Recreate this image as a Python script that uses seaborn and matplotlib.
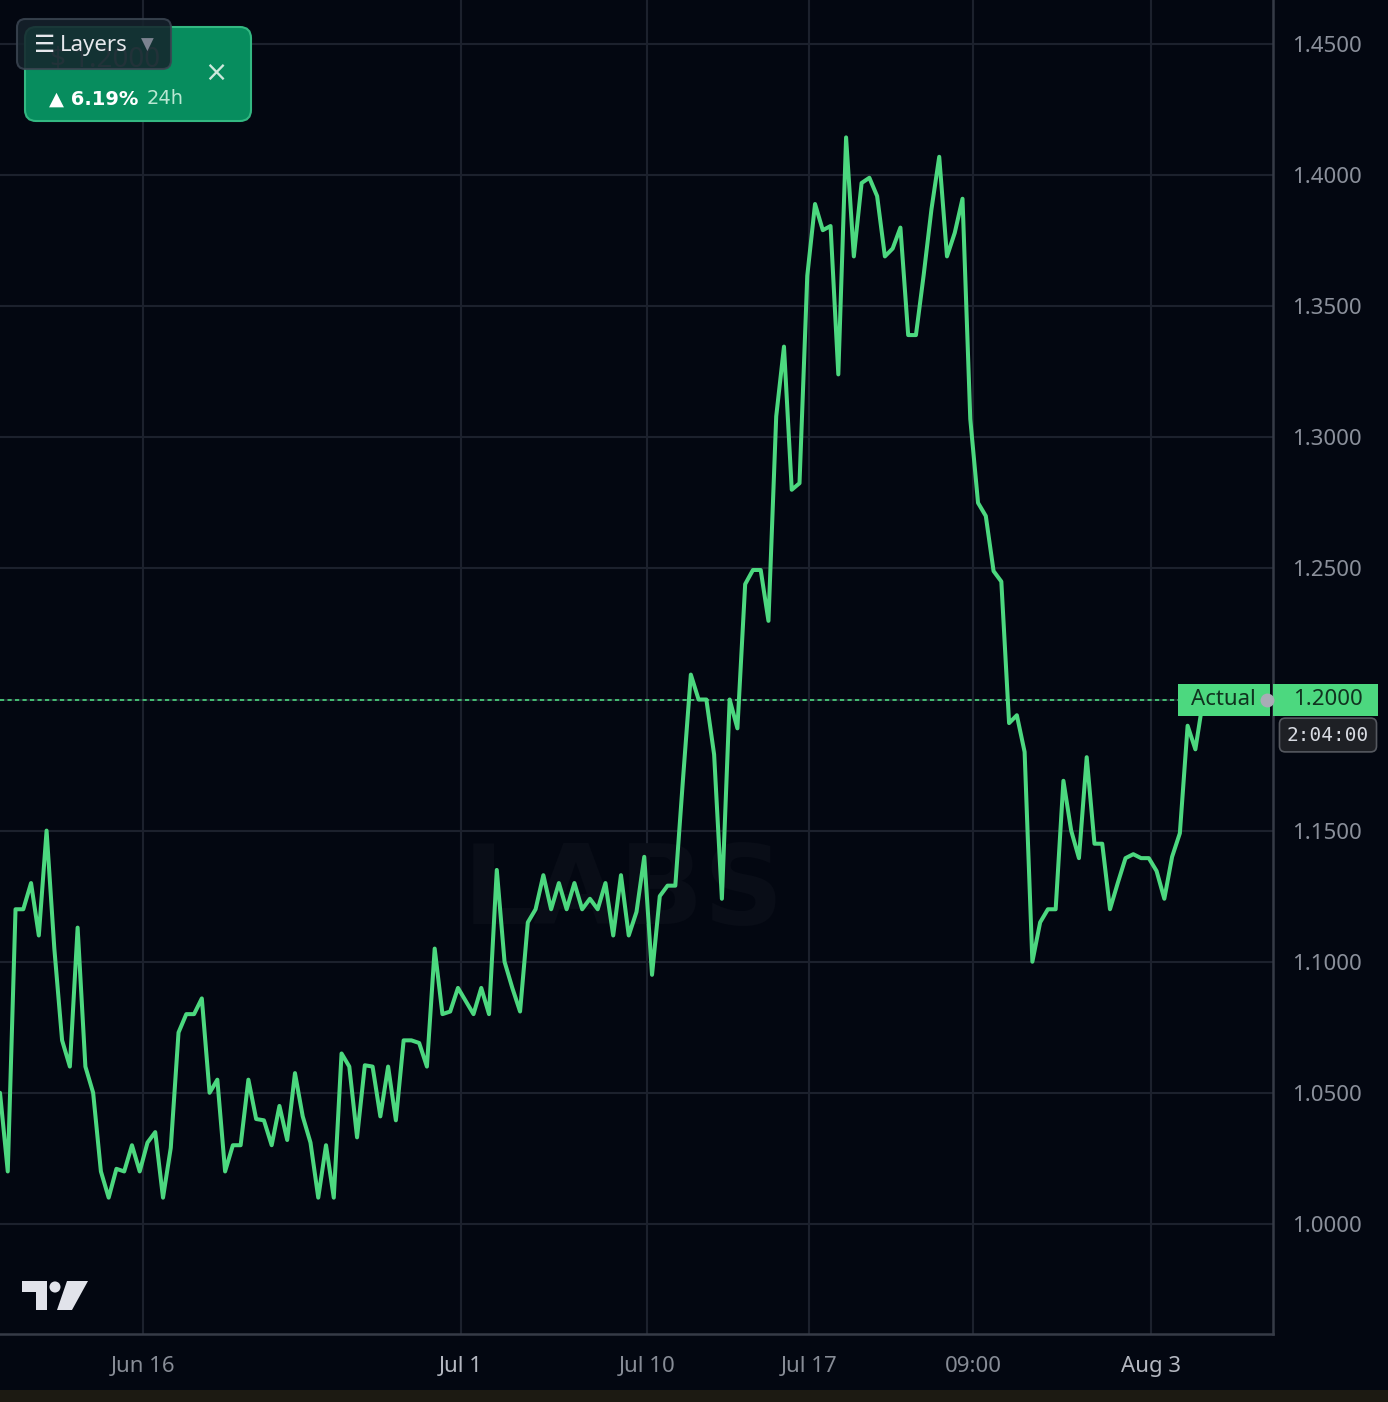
import numpy as np
import matplotlib.pyplot as plt
import seaborn as sns
from matplotlib.patches import FancyBboxPatch, Rectangle, Polygon, Circle
import matplotlib.transforms as mtransforms

# Price series (one value per bar)
prices = [
    1.050, 1.020, 1.120, 1.120, 1.130, 1.110, 1.150, 1.105, 1.070, 1.060,
    1.113, 1.060, 1.050, 1.020, 1.010, 1.021, 1.020, 1.030, 1.020, 1.031,
    1.035, 1.010, 1.029, 1.073, 1.080, 1.080, 1.086, 1.050, 1.055, 1.020,
    1.030, 1.030, 1.055, 1.040, 1.0395, 1.030, 1.045, 1.032, 1.0575, 1.041,
    1.031, 1.010, 1.030, 1.010, 1.065, 1.060, 1.033, 1.0605, 1.060, 1.041,
    1.060, 1.0395, 1.070, 1.070, 1.069, 1.060, 1.105, 1.080, 1.081, 1.090,
    1.085, 1.080, 1.090, 1.080, 1.135, 1.100, 1.090, 1.081, 1.115, 1.120,
    1.133, 1.120, 1.130, 1.120, 1.130, 1.120, 1.124, 1.120, 1.130, 1.110,
    1.133, 1.110, 1.119, 1.140, 1.095, 1.125, 1.129, 1.129, 1.170, 1.2095,
    1.200, 1.200, 1.179, 1.124, 1.200, 1.189, 1.244, 1.2494, 1.2494, 1.230,
    1.308, 1.3346, 1.280, 1.2825, 1.3616, 1.389, 1.379, 1.3806, 1.324, 1.4144,
    1.369, 1.397, 1.399, 1.392, 1.369, 1.372, 1.380, 1.339, 1.339, 1.362,
    1.387, 1.407, 1.369, 1.378, 1.391, 1.307, 1.275, 1.270, 1.249, 1.245,
    1.191, 1.194, 1.180, 1.100, 1.115, 1.120, 1.120, 1.169, 1.150, 1.1395,
    1.178, 1.145, 1.145, 1.120, 1.130, 1.1395, 1.141, 1.1395, 1.1395, 1.1346,
    1.124, 1.140, 1.149, 1.190, 1.181, 1.200,
]
bar_index = np.arange(len(prices))

# x axis labels (in bar units) and price scale
x_tick_pos = [18.43, 59.40, 83.37, 104.24, 125.37, 148.31]
x_tick_labels = ["Jun 16", "Jul 1", "Jul 10", "Jul 17", "09:00", "Aug 3"]
x_tick_bold = [False, True, False, False, False, True]
y_ticks = [1.00, 1.05, 1.10, 1.15, 1.20, 1.25, 1.30, 1.35, 1.40, 1.45]
last_price = 1.2000

BG = "#030711"
GRID = "#1c212d"
LINE = "#4cd87f"

sns.set_style("dark")
W, H = 1388, 1402
fig = plt.figure(figsize=(W / 100, H / 100), dpi=100, facecolor=BG)
ax = fig.add_axes([0, 68 / H, 1273 / W, 1334 / H])
ax.set_facecolor(BG)

sns.lineplot(x=bar_index, y=prices, ax=ax, color=LINE, linewidth=2.9, zorder=3)
ax.axhline(last_price, color=LINE, linestyle=(0, (2.5, 2)), linewidth=1.2, zorder=2)

ax.set_xlim(0, 164)
ax.set_ylim(0.958, 1.4668)
ax.set_xlabel("")
ax.set_ylabel("")

ax.yaxis.tick_right()
ax.set_yticks(y_ticks)
ax.set_yticklabels([f"{v:.4f}" for v in y_ticks], fontsize=16, color="#8b909b",
                   family="Noto Sans")
ax.set_xticks(x_tick_pos)
ax.set_xticklabels(x_tick_labels, fontsize=16, family="Noto Sans")
for lbl, bold in zip(ax.get_xticklabels(), x_tick_bold):
    lbl.set_color("#b4b7c0" if bold else "#878c96")
    lbl.set_fontweight("bold" if bold else "normal")
ax.tick_params(axis="both", length=0)
ax.tick_params(axis="y", pad=14)
ax.tick_params(axis="x", pad=16)

ax.grid(True, color=GRID, linewidth=1.5, zorder=0)
for side in ["top", "left"]:
    ax.spines[side].set_visible(False)
for side in ["right", "bottom"]:
    ax.spines[side].set_visible(True)
    ax.spines[side].set_color("#363b47")
    ax.spines[side].set_linewidth(1.8)

# faint watermark
ax.text(0.49, 0.33, "LABS", transform=ax.transAxes, fontsize=80, fontweight="bold",
        color="#090d17", ha="center", va="center", zorder=1)

# price label boxes on the right
trans = mtransforms.blended_transform_factory(ax.transAxes, ax.transData)
box_h = 0.0122
ax.add_patch(Rectangle((1178 / 1273, last_price - box_h / 2), 92 / 1273, box_h,
                       transform=trans, fc=LINE, ec="none", zorder=6, clip_on=False))
ax.add_patch(Rectangle((1.0, last_price - box_h / 2), 105 / 1273, box_h,
                       transform=trans, fc=LINE, ec="none", zorder=6, clip_on=False))
ax.text(1223 / 1273, last_price, "Actual", transform=trans, fontsize=16,
        family="Noto Sans", color="#10321f", ha="center", va="center", zorder=7,
        clip_on=False)
ax.text(1328 / 1273, last_price, f"{last_price:.4f}", transform=trans, fontsize=16,
        family="Noto Sans", color="#10321f", ha="center", va="center", zorder=7,
        clip_on=False)
ax.plot([1267 / 1273], [last_price], transform=trans, marker="o", markersize=9,
        color="#a9acb6", zorder=8, clip_on=False)
fig.text(1328 / W, 1 - 735 / H, "2:04:00", fontsize=14, family="DejaVu Sans Mono",
         color="#d8dbe2", ha="center", va="center",
         bbox=dict(boxstyle="round,pad=0.38,rounding_size=0.3", fc="#1e2025", ec="#55585f",
                   lw=1.2))

# top-left ticker card
card = FancyBboxPatch((25 / W, 1 - 121 / H), 226 / W, 94 / H,
                      boxstyle="round,pad=0,rounding_size=0.008",
                      transform=fig.transFigure, fc="#078d5e", ec="#33b882", lw=1.5,
                      zorder=1)
fig.patches.append(card)
fig.text(50 / W, 1 - 60 / H, "$ 1.2000", fontsize=20, color="#6d8f88", va="center",
         family="Noto Sans", zorder=1.5)
fig.text(49 / W, 1 - 99 / H, "▲ 6.19%", fontsize=14, color="white", fontweight="bold",
         va="center", family="DejaVu Sans", zorder=3)
fig.text(147 / W, 1 - 99 / H, "24h", fontsize=14, color="#b9e7d2", va="center",
         family="DejaVu Sans", zorder=3)
fig.text(216 / W, 1 - 73 / H, "×", fontsize=20, color="#cde9dc", va="center",
         ha="center", family="DejaVu Sans", zorder=3)

layers = FancyBboxPatch((17 / W, 1 - 69 / H), 154 / W, 50 / H,
                        boxstyle="round,pad=0,rounding_size=0.006",
                        transform=fig.transFigure, fc="#16232c", ec="#3b4552", lw=1.5,
                        alpha=0.86, zorder=2)
fig.patches.append(layers)
fig.text(34 / W, 1 - 45 / H, "☰", fontsize=17, color="#e6e8ec", va="center",
         family="DejaVu Sans", zorder=3)
fig.text(60 / W, 1 - 45 / H, "Layers", fontsize=16, color="#e6e8ec", va="center",
         fontweight="bold", family="Noto Sans", zorder=3)
fig.text(141 / W, 1 - 45 / H, "▼", fontsize=12, color="#7c8390", va="center",
         family="DejaVu Sans", zorder=3)

# TradingView mark (pixel coordinates, y from top)
def px(x, y):
    return (x / W, 1 - y / H)

LOGO = "#e1e3ea"
fig.patches.append(Polygon([px(22, 1281), px(47, 1281), px(47, 1310), px(36, 1310),
                            px(36, 1292), px(22, 1292)], closed=True,
                           transform=fig.transFigure, fc=LOGO, ec="none", zorder=3))
fig.patches.append(Circle(px(55, 1287), 5.5 / W, transform=fig.transFigure,
                          fc=LOGO, ec="none", zorder=3))
fig.patches.append(Polygon([px(67, 1281), px(88, 1281), px(72, 1310), px(57, 1310)],
                           closed=True, transform=fig.transFigure, fc=LOGO, ec="none",
                           zorder=3))

# bottom strip
fig.patches.append(Rectangle((0, 0), 1, 12 / H, transform=fig.transFigure,
                             fc="#1c1a12", ec="none"))

fig.savefig("out.png", dpi=100, facecolor=BG)
